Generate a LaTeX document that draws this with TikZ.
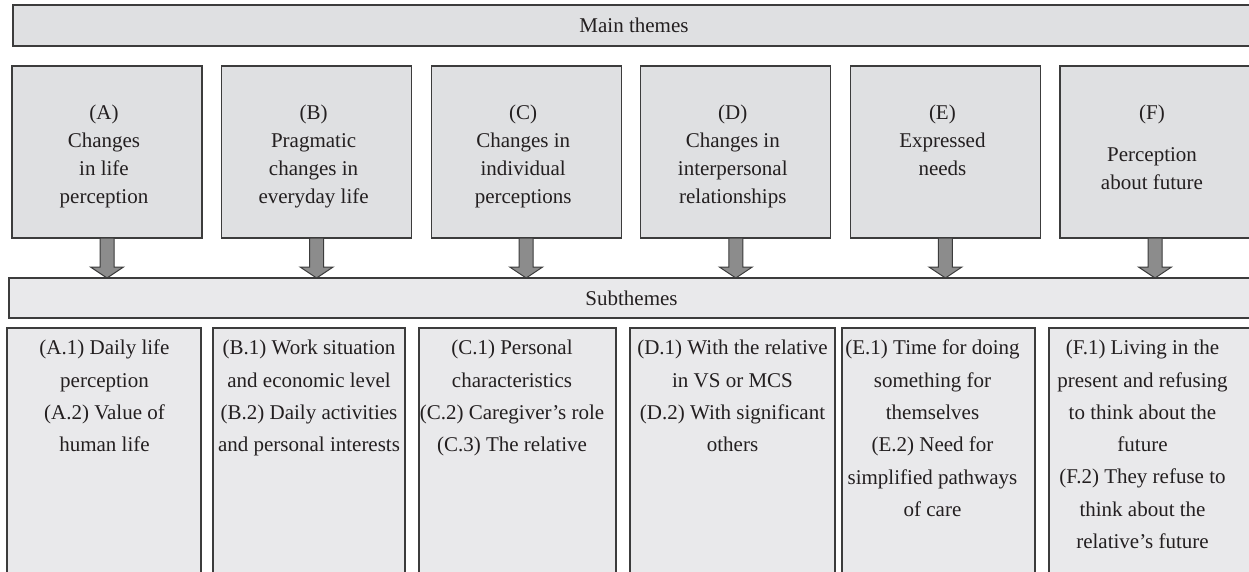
\documentclass[tikz,border=0pt]{standalone}
\usepackage{fontspec}
\setmainfont{Liberation Serif}
\usepackage{tikz}
\usetikzlibrary{positioning}
\definecolor{boxgray}{HTML}{DFE0E2}
\definecolor{subgray}{HTML}{E9E9EB}
\definecolor{edgegray}{HTML}{3C3C3C}
\definecolor{arrowgray}{HTML}{8C8C8C}
\definecolor{inkgray}{HTML}{231F20}
\tikzstyle{bar} = [draw=edgegray, line width=1.2pt, fill=boxgray, outer sep=0pt, minimum height=41pt, text=inkgray, font=\fontsize{21}{28}\selectfont]
\tikzstyle{theme} = [draw=edgegray, line width=1.2pt, fill=boxgray, outer sep=0pt, minimum width=190pt, minimum height=172pt]
\tikzstyle{themetext} = [align=center, inner sep=0pt, text=inkgray, font=\fontsize{21}{28}\selectfont, xshift=-3pt]
\tikzstyle{subbox} = [draw=edgegray, line width=1.2pt, fill=subgray, outer sep=0pt, minimum height=262pt, anchor=north west]
\tikzstyle{subtext} = [align=center, inner sep=0pt, anchor=north, text=inkgray, font=\fontsize{21}{32.3}\selectfont]
\tikzstyle{blockarrow} = [draw=edgegray, line width=1pt, fill=arrowgray, line join=miter]

\begin{document}
\begin{tikzpicture}[x=1pt, y=-1pt, node distance=19.6pt]
\useasboundingbox (0,0) rectangle (1249,571);

% main themes
\node[bar, minimum width=1242pt] (main) at (634,25.5) {Main themes};

\node[theme] (A) at (107,152) {};
\node[theme, right=of A] (B) {};
\node[theme, right=of B] (C) {};
\node[theme, right=of C] (D) {};
\node[theme, right=of D] (E) {};
\node[theme, right=of E] (F) {};

\node[themetext, below=39pt of A.north] (At) {(A)\\Changes\\in life\\perception};
\node[themetext, below=39pt of B.north] (Bt) {(B)\\Pragmatic\\changes in\\everyday life};
\node[themetext, below=39pt of C.north] (Ct) {(C)\\Changes in\\individual\\perceptions};
\node[themetext, below=39pt of D.north] (Dt) {(D)\\Changes in\\interpersonal\\relationships};
\node[themetext, below=39pt of E.north] (Et) {(E)\\Expressed\\needs};
\node[themetext, below=39pt of F.north] (Ft) {(F)\\[14pt]Perception\\about future};

% subthemes
\node[bar, fill=subgray, minimum width=1245pt, minimum height=40pt] (subthemes) at (631.5,298) {Subthemes};

\foreach \t in {A,B,C,D,E,F}
  \draw[blockarrow] (\t.south) ++(-7,0) -- ++(0,29) -- ++(-9.5,0) -- (\t.south |- subthemes.north) -- ++(16.5,-11) -- ++(-9.5,0) -- ++(0,-29) -- cycle;

\node[subbox, minimum width=194pt] (sA) at (7,328) {};
\node[subbox, minimum width=192pt] (sB) at (213,328) {};
\node[subbox, minimum width=197pt] (sC) at (419,328) {};
\node[subbox, minimum width=205pt] (sD) at (630,328) {};
\node[subbox, minimum width=193pt] (sE) at (842,328) {};
\node[subbox, minimum width=215pt] (sF) at (1049,328) {};

\node[subtext] (sAt) at (104.5,340) {(A.1) Daily life\\perception\\(A.2) Value of\\human life};
\node[subtext] (sBt) at (309,340) {(B.1) Work situation\\and economic level\\(B.2) Daily activities\\and personal interests};
\node[subtext] (sCt) at (512,340) {(C.1) Personal\\characteristics\\(C.2) Caregiver's role\\(C.3) The relative};
\node[subtext] (sDt) at (732.5,340) {(D.1) With the relative\\in VS or MCS\\(D.2) With significant\\others};
\node[subtext] (sEt) at (932.5,340) {(E.1) Time for doing\\something for\\themselves\\(E.2) Need for\\simplified pathways\\of care};
\node[subtext] (sFt) at (1142.5,340) {(F.1) Living in the\\present and refusing\\to think about the\\future\\(F.2) They refuse to\\think about the\\relative's future};
\end{tikzpicture}
\end{document}
